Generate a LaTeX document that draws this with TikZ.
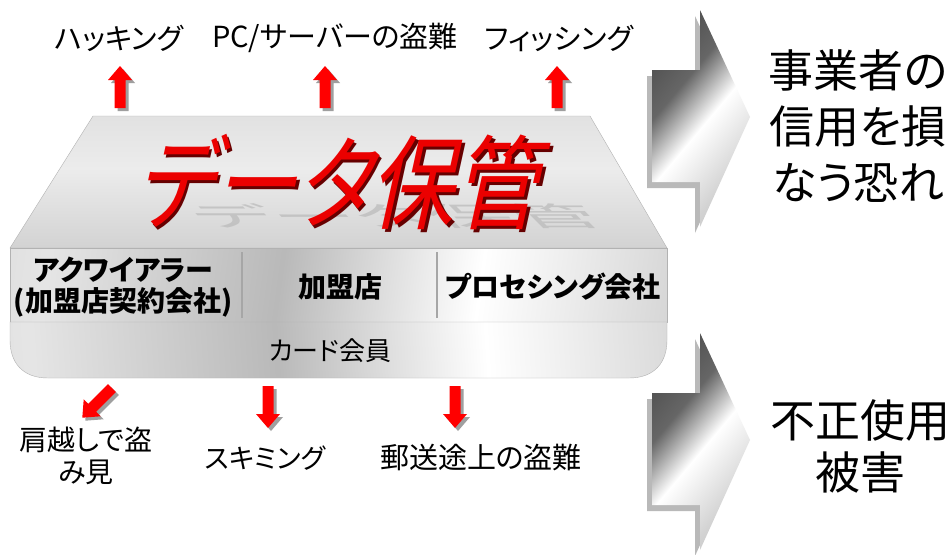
\documentclass[tikz,border=0pt]{standalone}
\usepackage{fontspec}
\setmainfont[RawFeature=+palt]{Noto Sans CJK JP}
\pgfdeclareverticalshading{silver}{100bp}{color(0bp)=(gray!55); color(25bp)=(gray!35); color(55bp)=(white!85!gray); color(80bp)=(gray!25); color(100bp)=(gray!40)}
\pgfdeclarehorizontalshading{bandmetal}{100bp}{color(0bp)=(gray!50); color(25bp)=(gray!20); color(45bp)=(gray!55); color(62bp)=(white); color(80bp)=(gray!35); color(100bp)=(gray!60)}
\pgfdeclarehorizontalshading{chevmetal}{100bp}{color(0bp)=(black!85); color(38bp)=(black!60); color(52bp)=(white); color(70bp)=(gray!35); color(100bp)=(gray!70)}
\tikzset{
  lbl/.style={font=\fontsize{29}{34}\selectfont, inner sep=0pt},
  cell/.style={font=\fontsize{28}{31}\selectfont\bfseries, inner sep=0pt, align=center},
  big/.style={font=\fontsize{45}{56}\selectfont, inner sep=0pt, align=center},
  arrred/.pic={\fill[red] (-5.5,0) -- (-5.5,28) -- (-12,28) -- (0,42) -- (12,28) -- (5.5,28) -- (5.5,0) -- cycle;},
  arrgray/.pic={\fill[gray!75] (-5.5,0) -- (-5.5,28) -- (-12,28) -- (0,42) -- (12,28) -- (5.5,28) -- (5.5,0) -- cycle;},
  chevshape/.pic={\path[pic actions] (-48,-47) -- (0,-47) -- (0,-107) -- (50,0) -- (0,110) -- (0,65) -- (-48,65) -- cycle;},
  titlefont/.style={font=\fontsize{84}{90}\selectfont, inner sep=0pt, xslant=0.22, yscale=1.22},
}
\newcommand\redarrow[3]{\pic[rotate=#3] at (#1+3,#2+3) {arrgray}; \pic[rotate=#3] at (#1,#2) {arrred};}
\newcommand\chevron[2]{%
  \pic[fill=gray!55] at (#1-5,#2+6) {chevshape};
  \pic[shading=chevmetal, shading angle=-40] at (#1,#2) {chevshape};}
\begin{document}
\begin{tikzpicture}[x=1pt,y=-1pt]
\useasboundingbox[fill=white] (0,0) rectangle (952,554);

% top labels
\node[lbl] (hack) at (119,38) {ハッキング};
\node[lbl] (pc) at (335,38) {PC/サーバーの盗難};
\node[lbl] (phish) at (559,38) {フィッシング};

% up arrows
\redarrow{120}{108}{180}
\redarrow{325}{108}{180}
\redarrow{557}{108}{180}

% trapezoid top surface
\path[draw=gray!60, shading=silver] (93,116) -- (590,116) -- (667,248) -- (10,248) -- cycle;
% title with reflection
\node[font=\fontsize{84}{90}\selectfont, text=gray!55, opacity=0.7, xslant=-1.0, yscale=0.32, inner sep=0pt] (refl) at (395,216) {データ保管};
\node[titlefont, text=red!40!black] (titleshadow) at (347.5,184.5) {データ保管};
\node[titlefont, text=red!92!black] (title) at (345,182) {データ保管};

% band
\path[draw=gray!60, shading=bandmetal, shading angle=-8] (10,248) rectangle (667,322);
\draw[gray!70, line width=1.2pt] (242,252) -- (242,318);
\draw[gray!70, line width=1.2pt] (437,252) -- (437,318);
\node[cell] (acq) at (123,287) {アクワイアラー\\(加盟店契約会社)};
\node[cell] (merch) at (340,287) {加盟店};
\node[cell] (proc) at (553,287) {プロセシング会社};

% bottom rounded part
\path[draw=gray!60, shading=bandmetal, shading angle=4] (10,322) -- (10,340) .. controls (10,362) and (22,378) .. (48,378) -- (629,378) .. controls (655,378) and (667,362) .. (667,340) -- (667,322) -- cycle;
\node[font=\fontsize{26}{30}\selectfont, inner sep=0pt] (member) at (330,351) {カード会員};

% down arrows
\redarrow{112}{388}{-45}
\redarrow{268}{386}{0}
\redarrow{455}{386}{0}

% bottom labels
\node[lbl, align=center, font=\fontsize{28}{32}\selectfont] (shoulder) at (86,456) {肩越しで盗\\み見};
\node[lbl, font=\fontsize{27}{32}\selectfont] (skim) at (265,458) {スキミング};
\node[lbl] (mail) at (481,458) {郵送途上の盗難};

% big chevrons
\chevron{700}{117}
\chevron{700}{440}

% right texts
\node[big] (risk) at (858,126) {事業者の\\信用を損\\なう恐れ};
\node[big, font=\fontsize{45}{52}\selectfont] (fraud) at (860,446) {不正使用\\被害};
\end{tikzpicture}
\end{document}
